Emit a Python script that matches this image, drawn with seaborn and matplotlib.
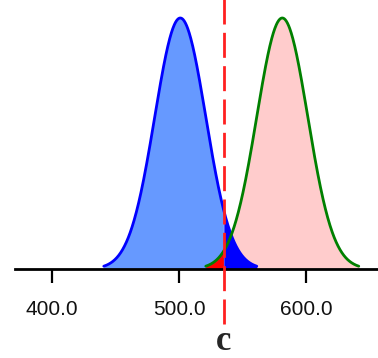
import numpy as np
import pandas as pd
import seaborn as sns
import matplotlib.pyplot as plt
from matplotlib import transforms

# values
means = [501, 581]          # centre of each bell curve
sds = [20, 20]              # spread of each curve
cut = 535                   # dashed criterion line "c"
tick_vals = [400.0, 500.0, 600.0]
tick_labels = ["400.0", "500.0", "600.0"]
cut_label = "c"

sns.set_theme(style="white")

# build the curves (normal densities, cut off at 3 sd)
rows = []
for name, m, s in zip(["noise", "signal"], means, sds):
    xs = np.linspace(m - 3 * s, m + 3 * s, 400)
    ys = np.exp(-0.5 * ((xs - m) / s) ** 2) / (s * np.sqrt(2 * np.pi))
    rows.append(pd.DataFrame({"x": xs, "y": ys, "curve": name}))
df = pd.concat(rows, ignore_index=True)
blue = df[df.curve == "noise"]
green = df[df.curve == "signal"]

fig = plt.figure(figsize=(3.78, 3.58), dpi=100)
ax = fig.add_axes([15 / 378, 1 - 269 / 358, 1 - 15 / 378, 269 / 358])

peak = 1 / (sds[0] * np.sqrt(2 * np.pi))
ax.set_xlim(500 + (15 - 179) / 1.275, 500 + (378 - 179) / 1.275)
ax.set_ylim(0, peak * 269 / 251)

# fills: light parts first, dark overlap parts on top
bl = blue[blue.x <= cut]
br = blue[blue.x >= cut]
gl = green[green.x <= cut]
gr = green[green.x >= cut]
ax.fill_between(bl.x, 0, bl.y, color="#6699ff", lw=0)
ax.fill_between(gr.x, 0, gr.y, color="#ffcccc", lw=0)
ax.fill_between(br.x, 0, br.y, color="#0000ff", lw=0)
ax.fill_between(gl.x, 0, gl.y, color="#ff0000", lw=0)

sns.lineplot(data=blue, x="x", y="y", color="#0000ff", lw=2, ax=ax, sort=False)
sns.lineplot(data=green, x="x", y="y", color="#008000", lw=2, ax=ax, sort=False)

# dashed criterion line, running past the axis down to the label
top = 1 + 5 / 269
bottom = -(328 - 269) / 269
trans = transforms.blended_transform_factory(ax.transData, ax.transAxes)
ax.plot([cut, cut], [top, bottom], color="#ff2020", lw=2, ls=(0, (9, 3)),
        transform=trans, clip_on=False, zorder=5)
ax.text(cut, -(342 - 269) / 269, cut_label, transform=trans, ha="center", va="center",
        fontsize=25, fontweight="bold", family="Liberation Serif")

sns.despine(ax=ax, left=True, top=True, right=True)
ax.spines["bottom"].set_linewidth(2)
ax.spines["bottom"].set_color("black")
ax.set_yticks([])
ax.set_xticks(tick_vals)
ax.set_xticklabels(tick_labels, family="Liberation Sans", fontsize=15, color="#111111")
ax.tick_params(axis="x", direction="out", length=10, width=1.6, color="black", pad=12,
               bottom=True)
ax.set_xlabel("")
ax.set_ylabel("")

fig.savefig("out.png", dpi=100)
